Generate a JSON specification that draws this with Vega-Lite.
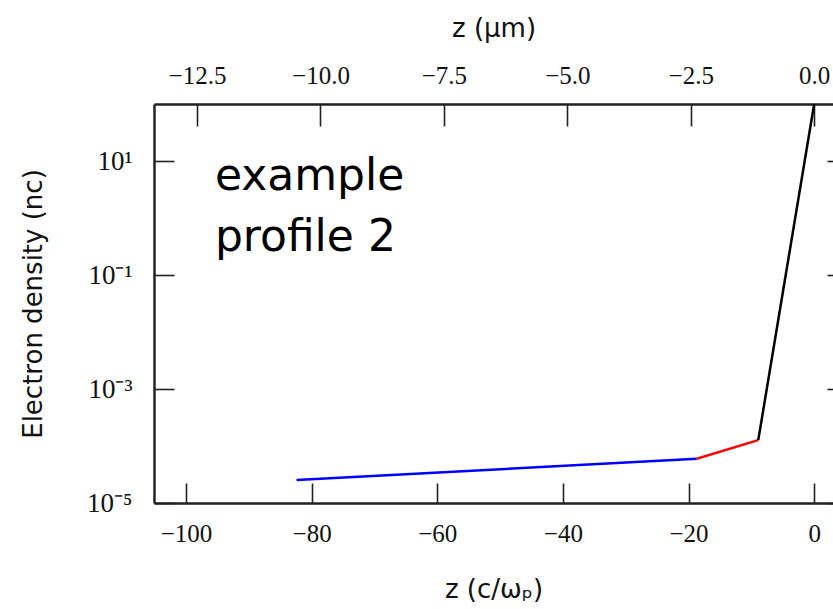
{
  "$schema": "https://vega.github.io/schema/vega-lite/v6.json",
  "width": 679,
  "height": 399,
  "autosize": {"type": "none"},
  "padding": {"left": 154, "top": 104, "right": 0, "bottom": 106},
  "background": "white",
  "config": {
    "view": {"stroke": null},
    "axis": {
      "grid": false,
      "domainColor": "#222222",
      "domainWidth": 2.5,
      "tickColor": "#222222",
      "tickWidth": 1.6,
      "labelColor": "#111111",
      "titleColor": "#111111",
      "labelFont": "Liberation Serif",
      "labelFontSize": 25,
      "titleFont": "DejaVu Sans",
      "titleFontSize": 26,
      "titleFontWeight": "normal"
    }
  },
  "datasets": {
    "profile": [
      {"seg": "blue", "z": -82.4, "n": 0.0000253},
      {"seg": "blue", "z": -18.7, "n": 0.0000598},
      {"seg": "red", "z": -18.7, "n": 0.0000598},
      {"seg": "red", "z": -8.9, "n": 0.000127},
      {"seg": "black", "z": -8.9, "n": 0.000127},
      {"seg": "black", "z": 0, "n": 100}
    ],
    "note": [
      {"label": "example\nprofile 2", "z": -95.4, "n": 3.1}
    ]
  },
  "layer": [
    {
      "data": {"name": "profile"},
      "mark": {"type": "line", "strokeWidth": 2.5, "clip": true},
      "encoding": {
        "x": {
          "field": "z", "type": "quantitative",
          "scale": {"domain": [-105.1, 3.0], "nice": false, "zero": false},
          "axis": {"orient": "bottom", "title": "z (c/ωₚ)", "values": [-100, -80, -60, -40, -20, 0],
                   "tickSize": -20, "labelPadding": 38, "titlePadding": 30}
        },
        "y": {
          "field": "n", "type": "quantitative",
          "scale": {"type": "log", "domain": [0.00001, 100], "nice": false},
          "axis": {"orient": "left", "title": "Electron density (nc)", "values": [10, 0.1, 0.001, 0.00001],
                   "labelExpr": "datum.value > 1 ? '10¹' : datum.value > 0.01 ? '10⁻¹' : datum.value > 0.0001 ? '10⁻³' : '10⁻⁵'",
                   "labelFontSize": 27,
                   "tickSize": -20, "labelPadding": 42, "titlePadding": 40}
        },
        "color": {
          "field": "seg", "type": "nominal",
          "scale": {"domain": ["blue", "red", "black"], "range": ["#0000ff", "#ff0000", "#000000"]},
          "legend": null
        }
      }
    },
    {
      "data": {"name": "profile"},
      "mark": {"type": "line", "strokeOpacity": 0},
      "encoding": {
        "x": {
          "field": "z", "type": "quantitative",
          "scale": {"domain": [-105.1, 3.0], "nice": false, "zero": false},
          "axis": {"orient": "top", "title": "z (μm)", "values": [-98.25, -78.6, -58.95, -39.3, -19.65, 0],
                   "labelExpr": "format(datum.value / 7.86, '.1f')",
                   "tickSize": -22, "labelPadding": 38, "titlePadding": 22}
        },
        "y": {
          "field": "n", "type": "quantitative",
          "scale": {"type": "log", "domain": [0.00001, 100], "nice": false},
          "axis": {"orient": "right", "title": null, "labels": false, "values": [10, 0.1, 0.001, 0.00001],
                   "tickSize": -18, "offset": 12}
        }
      }
    },
    {
      "data": {"name": "note"},
      "mark": {"type": "text", "align": "left", "baseline": "alphabetic", "lineBreak": "\n", "lineHeight": 61,
               "font": "DejaVu Sans", "fontSize": 44, "color": "#000000"},
      "encoding": {
        "x": {"field": "z", "type": "quantitative", "axis": null},
        "y": {"field": "n", "type": "quantitative", "axis": null},
        "text": {"field": "label"}
      }
    }
  ],
  "resolve": {"axis": {"x": "independent", "y": "independent"}}
}
